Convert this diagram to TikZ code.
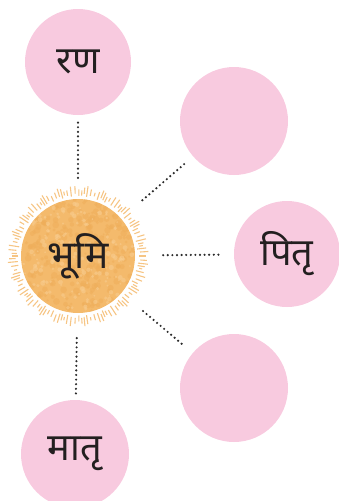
\documentclass[tikz,border=0pt]{standalone}
\usepackage{fontspec}
\newfontfamily\deva[Script=Devanagari]{Noto Sans}
\usetikzlibrary{calc}
\definecolor{pinkc}{HTML}{F8CADF}
\definecolor{sunc}{HTML}{F4BA6C}
\definecolor{sundark}{HTML}{EFAE5A}
\definecolor{sunlight}{HTML}{F8CC8E}
\definecolor{rayc}{HTML}{F6C584}
\definecolor{dotc}{HTML}{2B2B2B}
\definecolor{txtc}{HTML}{231F20}
\tikzset{
  bubble/.style={circle, fill=pinkc, inner sep=0pt, minimum size=106pt, text=txtc, font=\deva\fontsize{38}{44}\selectfont},
  sunnode/.style={circle, fill=sunc, inner sep=0pt, minimum size=114pt},
  link/.style={dotc, line width=2.4pt, line cap=round, dash pattern=on 0pt off 4.6pt},
  ray/.style={rayc, line width=1.1pt}
}
\begin{document}
\begin{tikzpicture}[x=1pt,y=-1pt]
\useasboundingbox (0,0) rectangle (339,501);
% sun
\node[sunnode] (sun) at (78,256) {};
\pgfmathsetseed{7}
\begin{scope}
\clip (sun.center) circle (57pt);
\foreach \k in {1,...,260} {
  \pgfmathsetmacro\rr{57*sqrt(rnd)}
  \pgfmathsetmacro\tt{360*rnd}
  \pgfmathsetmacro\ss{1+2.5*rnd}
  \fill[sundark, opacity=0.55] ($(sun.center)+(\tt:\rr pt)$) circle (\ss pt);
}
\foreach \k in {1,...,160} {
  \pgfmathsetmacro\rr{57*sqrt(rnd)}
  \pgfmathsetmacro\tt{360*rnd}
  \pgfmathsetmacro\ss{0.8+1.8*rnd}
  \fill[sunlight, opacity=0.6] ($(sun.center)+(\tt:\rr pt)$) circle (\ss pt);
}
\end{scope}
\foreach \i in {0,...,119} {
  \pgfmathsetmacro\aa{\i*3+0.8*sin(\i*57)}
  \pgfmathsetmacro\rin{61+1.5*sin(\i*131)}
  \pgfmathsetmacro\rout{68+2.5*sin(\i*83)}
  \draw[ray] ($(sun.center)+(\aa:\rin pt)$) -- ($(sun.center)+(\aa:\rout pt)$);
}
\node[text=txtc, font=\deva\fontsize{39}{46}\selectfont] (suntext) at (78,256) {भूमि};
% bubbles
\node[bubble] (ran) at (78,62) {रण};
\node[bubble, minimum size=108pt] (tr) at (234,121) {};
\node[bubble] (pitr) at (287,254) {पितृ};
\node[bubble, minimum size=108pt] (br) at (234,388) {};
\node[bubble, minimum size=108pt] (matr) at (75,454) {मातृ};
% links
\draw[link, shorten <=21pt, shorten >=7pt] (sun) -- (ran);
\draw[link, shorten <=28pt, shorten >=10pt] (sun) -- (tr);
\draw[link, shorten <=28pt, shorten >=13pt] (sun) -- (pitr);
\draw[link, shorten <=28pt, shorten >=10pt] (sun) -- (br);
\draw[link, shorten <=25pt, shorten >=4pt] (sun) -- (matr);
\end{tikzpicture}
\end{document}
